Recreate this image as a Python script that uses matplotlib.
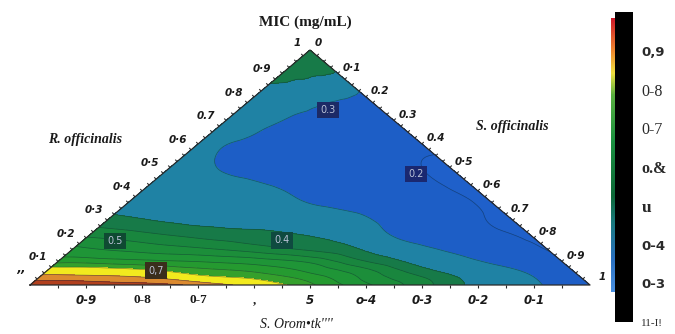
import numpy as np
import matplotlib
matplotlib.use("Agg")
import matplotlib.pyplot as plt
import matplotlib.tri as mtri
from matplotlib.colors import ListedColormap, BoundaryNorm, LinearSegmentedColormap
from matplotlib.collections import LineCollection

# ── 1. MIC surface ───────────────────────────────────────────────
# rows: fraction of R. officinalis (apex vertex)
# cols: share of S. officinalis in the remainder (0 = left edge, 1 = right edge)
r_frac = [0.0, 0.03, 0.06, 0.10, 0.15, 0.20, 0.30, 0.40, 0.50, 0.60, 0.70, 0.80, 0.90]
s_share = [0.0, 0.1, 0.2, 0.3, 0.4, 0.5, 0.6, 0.7, 0.8, 0.9, 1.0]
mic = [
    [1.00, 0.98, 0.94, 0.87, 0.76, 0.66, 0.56, 0.47, 0.38, 0.31, 0.25],
    [0.85, 0.84, 0.81, 0.73, 0.69, 0.63, 0.54, 0.46, 0.38, 0.31, 0.245],
    [0.75, 0.74, 0.71, 0.665, 0.64, 0.59, 0.52, 0.43, 0.36, 0.30, 0.235],
    [0.635, 0.625, 0.61, 0.595, 0.575, 0.54, 0.46, 0.39, 0.325, 0.27, 0.215],
    [0.565, 0.545, 0.525, 0.505, 0.475, 0.445, 0.405, 0.345, 0.285, 0.235, 0.198],
    [0.505, 0.485, 0.46, 0.44, 0.425, 0.405, 0.37, 0.295, 0.245, 0.215, 0.195],
    [0.40, 0.385, 0.37, 0.355, 0.34, 0.325, 0.308, 0.275, 0.24, 0.21, 0.19],
    [0.385, 0.365, 0.345, 0.325, 0.305, 0.285, 0.265, 0.245, 0.225, 0.205, 0.188],
    [0.37, 0.33, 0.29, 0.275, 0.26, 0.25, 0.24, 0.23, 0.215, 0.20, 0.193],
    [0.36, 0.31, 0.29, 0.275, 0.265, 0.255, 0.245, 0.235, 0.225, 0.215, 0.21],
    [0.36, 0.34, 0.32, 0.305, 0.292, 0.282, 0.272, 0.262, 0.253, 0.245, 0.24],
    [0.375, 0.37, 0.362, 0.352, 0.342, 0.332, 0.322, 0.313, 0.305, 0.297, 0.288],
    [0.43, 0.43, 0.425, 0.42, 0.42, 0.415, 0.41, 0.41, 0.405, 0.40, 0.385],
]
apex_mic = 0.445

levels = [0.0, 0.2, 0.3, 0.4, 0.45, 0.5, 0.55, 0.6, 0.65, 0.7, 0.8, 0.9, 1.1]
band_colors = ["#1f60ca", "#1d5ec6", "#1f82a4", "#177a48", "#19863e", "#1c8e3a",
               "#1f9537", "#259a30", "#35a02c", "#f2ea1e", "#dc8a30", "#b2401e"]

contour_labels = ["0.3", "0.2", "0.4", "0.5", "0,7"]
contour_label_rs = [(0.745, 0.16), (0.472, 0.453), (0.191, 0.354), (0.187, 0.058), (0.06, 0.195)]
contour_label_bg = ["#1c2a66", "#1a2870", "#0f4a40", "#0f4a32", "#3a2e1c"]

left_labels = ["0·1", "0·2", "0·3", "0·4", "0·5", "0·6", "0.7", "0·8", "0·9"]
right_labels = ["0·1", "0.2", "0.3", "0.4", "0·5", "0·6", "0.7", "0·8", "0·9"]
bottom_labels = ["0-9", "0-8", "0-7", ",", "5", "o-4", "0-3", "0-2", "0-1"]
tick_vals = [0.1, 0.2, 0.3, 0.4, 0.5, 0.6, 0.7, 0.8, 0.9]

cbar_vals = [0.9, 0.8, 0.7, 0.6, 0.5, 0.4, 0.3, 0.2]
cbar_text = ["0,9", "0-8", "0-7", "o.&", "u", "0-4", "0-3", "11-I!"]


def tern(a, b):
    # a = R. officinalis (apex), b = S. officinalis (right)
    return b + a / 2.0, a


# ── 2. Triangulated, smoothed surface ────────────────────────────
xs, ys, zs = [], [], []
for a, row in zip(r_frac, mic):
    for t, v in zip(s_share, row):
        x, y = tern(a, t * (1 - a))
        xs.append(x); ys.append(y); zs.append(v)
xs.append(0.5); ys.append(1.0); zs.append(apex_mic)
zs = np.array(zs)

tri = mtri.Triangulation(xs, ys)
interp = mtri.CubicTriInterpolator(tri, zs, kind="min_E")
tri_f, z_f = mtri.UniformTriRefiner(tri).refine_field(zs, triinterpolator=interp, subdiv=4)

# ── 3. Figure ────────────────────────────────────────────────────
W, H = 675, 334
fig = plt.figure(figsize=(W / 100, H / 100), dpi=100)
fig.patch.set_facecolor("white")
ax = fig.add_axes([30 / W, 49 / H, 560 / W, 235 / H])
ax.set_xlim(0, 1)
ax.set_ylim(0, 1)
ax.axis("off")

cmap = ListedColormap(band_colors)
norm = BoundaryNorm(levels, cmap.N)
ax.tricontourf(tri_f, z_f, levels=levels, cmap=cmap, norm=norm)
ax.tricontour(tri_f, z_f, levels=levels[1:-1], colors="#0b2536",
              linewidths=0.5, alpha=0.5)
ax.plot([0, 1, 0.5, 0], [0, 0, 1, 0], color="#2a2a2a", lw=0.9, clip_on=False)

# edge ticks (pixel lengths converted to data units)
px, py = 1 / 560, 1 / 235
segs = []
for v in np.arange(0.025, 0.999, 0.025):
    x, y = tern(v, 0)          # left edge
    segs.append([(x, y), (x - 1.7 * px, y + 2.0 * py)])
    x, y = tern(1 - v, v)      # right edge
    segs.append([(x, y), (x + 1.7 * px, y + 2.0 * py)])
for v in np.arange(0.05, 0.999, 0.05):
    x, y = tern(0, v)          # base
    segs.append([(x, y), (x, y - 3.0 * py)])
ax.add_collection(LineCollection(segs, colors="#2a2a2a", linewidths=0.8, clip_on=False))

tick_font = dict(fontsize=7.5, fontweight="bold", fontstyle="italic",
                 family="DejaVu Sans", color="#1a1a1a", ha="center", va="center")
for v, lab in zip(tick_vals, left_labels):
    ax.annotate(lab, tern(v, 0), xytext=(-14.4, 3.0), textcoords="offset points",
                annotation_clip=False, **tick_font)
for v, lab in zip(tick_vals, right_labels):
    ax.annotate(lab, tern(1 - v, v), xytext=(10.0, 4.0), textcoords="offset points",
                annotation_clip=False, **tick_font)
ax.annotate("1", tern(1, 0), xytext=(-9.4, 5.0), textcoords="offset points",
            annotation_clip=False, **tick_font)
ax.annotate("0", tern(1, 0), xytext=(6.0, 5.0), textcoords="offset points",
            annotation_clip=False, **tick_font)
ax.annotate("1", tern(0, 1), xytext=(8.6, 5.8), textcoords="offset points",
            annotation_clip=False, **tick_font)
ax.annotate("’’", tern(0, 0), xytext=(-7.5, 6.5), textcoords="offset points",
            annotation_clip=False, **dict(tick_font, fontsize=9))

serif_bold = {"0-8", "0-7", ","}
for v, lab in zip(tick_vals[::-1], bottom_labels):
    if lab in serif_bold:
        f = dict(fontsize=9.5, fontweight="bold", family="Liberation Serif",
                 color="#1a1a1a", ha="center", va="center")
    else:
        f = dict(tick_font, fontsize=8.5)
    ax.annotate(lab, tern(0, 1 - v), xytext=(0, -11.0), textcoords="offset points",
                annotation_clip=False, **f)

for lab, (a, b), bg in zip(contour_labels, contour_label_rs, contour_label_bg):
    ax.text(*tern(a, b), lab, fontsize=7, color="#b9c1d6", ha="center", va="center",
            family="DejaVu Sans",
            bbox=dict(boxstyle="square,pad=0.35", facecolor=bg, edgecolor="none"))

# axis titles
fig.text(305 / W, 1 - 22 / H, "MIC (mg/mL)", fontsize=11, fontweight="bold",
         family="Liberation Serif", color="#1a1a1a", ha="center", va="center")
fig.text(85 / W, 1 - 140 / H, "R. officinalis", fontsize=10, fontweight="bold",
         fontstyle="italic", family="Liberation Serif", color="#1a1a1a",
         ha="center", va="center")
fig.text(512 / W, 1 - 127 / H, "S. officinalis", fontsize=10, fontweight="bold",
         fontstyle="italic", family="Liberation Serif", color="#1a1a1a",
         ha="center", va="center")
fig.text(296 / W, 1 - 325 / H, "S. Orom•tk''''", fontsize=10, fontstyle="italic",
         family="Liberation Serif", color="#1a1a1a", ha="center", va="center")

# ── 4. Colour strip + black legend box ───────────────────────────
strip_cmap = LinearSegmentedColormap.from_list("strip", [
    (0.0, "#4a90e0"), (0.12, "#2a70c0"), (0.25, "#1a7a80"), (0.35, "#0d6838"),
    (0.55, "#1a9040"), (0.72, "#5ab040"), (0.80, "#f0e040"), (0.88, "#f08a30"),
    (1.0, "#d01a2a")])
sax = fig.add_axes([611 / W, 42 / H, 4 / W, 274 / H])
sax.imshow(np.linspace(1, 0, 256)[:, None], cmap=strip_cmap, aspect="auto")
sax.axis("off")

cax = fig.add_axes([615 / W, 12 / H, 18 / W, 310 / H])
cax.set_facecolor("black")
cax.set_xticks([])
cax.set_ylim(0.2, 1.0)
cax.yaxis.tick_right()
cax.set_yticks(cbar_vals)
cax.set_yticklabels(cbar_text)
cax.tick_params(axis="y", length=0, pad=6)
for s in cax.spines.values():
    s.set_visible(False)
cb_style = {
    "0,9": dict(family="DejaVu Sans", weight="bold", size=9.5),
    "0-8": dict(family="Liberation Serif", weight="normal", size=11.5),
    "0-7": dict(family="Liberation Serif", weight="normal", size=11.5),
    "o.&": dict(family="Liberation Serif", weight="bold", size=11.5),
    "u": dict(family="Liberation Serif", weight="bold", size=12.5),
    "0-4": dict(family="DejaVu Sans", weight="bold", size=9.5),
    "0-3": dict(family="DejaVu Sans", weight="bold", size=9.5),
    "11-I!": dict(family="Liberation Serif", weight="normal", size=8),
}
for tl in cax.get_yticklabels():
    st = cb_style[tl.get_text()]
    tl.set_fontfamily(st["family"])
    tl.set_fontweight(st["weight"])
    tl.set_fontsize(st["size"])
    tl.set_color("#2a2a2a")

plt.savefig("out.png", dpi=100)
